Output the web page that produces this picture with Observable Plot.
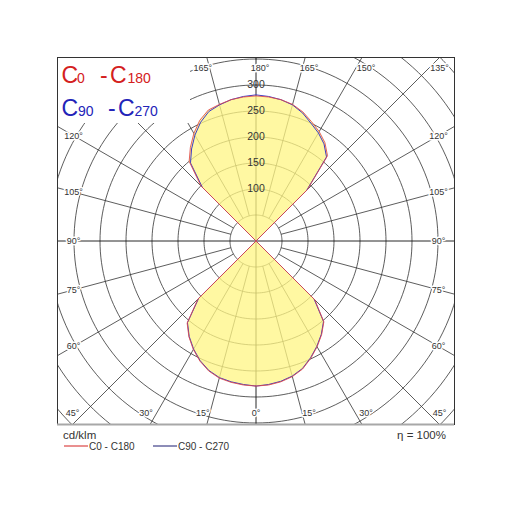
<!DOCTYPE html>
<html><head><meta charset="utf-8">
<script src="https://cdn.jsdelivr.net/npm/d3@7"></script>
<script src="https://cdn.jsdelivr.net/npm/@observablehq/plot@0.6"></script>
<style>
body{margin:0;background:#fff;}
svg{display:block;font-family:"Liberation Sans",Arial,sans-serif;}
</style>
</head><body><div id="chart"></div>
<script>
// Photometric data (cd/klm), gamma measured from nadir
const gamma = [0,5,10,15,20,25,30,35,40,45,50,55,60,65,70,75,80,85,90,95,100,105,110,115,120,125,130,135,140,145,150,155,160,165,170,175,180];
const c0   = [279,278,275,270,262,249,235,220,203,160, 0,0,0,0,0,0,0,0,0,0,0,0,0,0,0,0,0, 140,214,231,243,253,264,272,276,278,279];
const c180 = [279,278,276,273,266,255,241,225,206,158, 0,0,0,0,0,0,0,0,0,0,0,0,0,0,0,0,0, 150,200,220,239,256,268,272,276,278,279];
const c90  = [279,277,274,269,261,248,234,219,202,158, 0,0,0,0,0,0,0,0,0,0,0,0,0,0,0,0,0, 138,211,228,240,250,262,271,276,279,281];
const c270 = [279,277,275,272,265,254,240,224,205,156, 0,0,0,0,0,0,0,0,0,0,0,0,0,0,0,0,0, 146,196,216,235,252,265,271,276,279,281];
const ringValues = [50,100,150,200,250,300,350,400,450,500];
const ringLabels = [100,150,200,250,300];
const spokeAngles = d3.range(0, 360, 15);
const labelAngles = [0,15,30,45,60,75,90,105,120,135,150,165,180];
const seriesNames = ["C0 - C180", "C90 - C270"];
const unitLabel = "cd/klm";
const efficiencyLabel = "η = 100%";

const W = 512, H = 512;
const mL = 57, mR = 58, mT = 57, mB = 88;
const k = 0.52; // px per cd/klm
const xHalf = (W - mL - mR) / 2 / k;
const yHalf = (H - mT - mB) / 2 / k;
const rad = d => d * Math.PI / 180;
// title box (px) that masks the grid in the top-left corner
const box = {x: 58, y: 58, w: 132, h: 65};

function curve(right, left) {
  const pts = [];
  gamma.forEach((g, i) => pts.push({x: right[i] * Math.sin(rad(g)), y: -right[i] * Math.cos(rad(g))}));
  for (let i = gamma.length - 1; i >= 0; i--) pts.push({x: -left[i] * Math.sin(rad(gamma[i])), y: -left[i] * Math.cos(rad(gamma[i]))});
  pts.push(pts[0]);
  return pts;
}
const redPts = curve(c0, c180);
const bluePts = curve(c90, c270);

const ringPts = ringValues.flatMap(r => d3.range(0, 362, 2).map(a => ({r, x: r * Math.sin(rad(a)), y: r * Math.cos(rad(a))})));
const spokes = spokeAngles.filter(a => a % 90 !== 0);

const angleLabels = [];
for (const side of [1, -1]) for (const g of labelAngles) {
  if (side === -1 && (g === 0 || g === 180)) continue;
  const sx = side * Math.sin(rad(g)), sy = -Math.cos(rad(g));
  const tx = Math.abs(sx) > 1e-9 ? xHalf / Math.abs(sx) : Infinity;
  const ty = Math.abs(sy) > 1e-9 ? yHalf / Math.abs(sy) : Infinity;
  let x, y;
  if (ty <= tx) {
    x = sx * ty + Math.sign(sx) * 4 / k;
    x = Math.max(-(xHalf - 15 / k), Math.min(xHalf - 15 / k, x));
    y = Math.sign(sy) * (yHalf - 11 / k);
  } else {
    x = Math.sign(sx) * (xHalf - 16 / k);
    y = sy * (xHalf - 16 / k) / Math.abs(sx);
  }
  // labels falling under the title box are hidden in the original
  const px = mL + (x + xHalf) * k, py = mT + (yHalf - y) * k;
  if (px < box.x + box.w + 6 && py < box.y + box.h + 4) continue;
  angleLabels.push({g, x, y});
}

const gridColor = "#333";
const plot = Plot.plot({
  width: W, height: H,
  marginLeft: mL, marginRight: mR, marginTop: mT, marginBottom: mB,
  style: {background: "white", fontFamily: "Liberation Sans, Arial, sans-serif"},
  x: {domain: [-xHalf, xHalf], axis: null},
  y: {domain: [-yHalf, yHalf], axis: null},
  marks: [
    Plot.line(ringPts, {x: "x", y: "y", z: "r", stroke: gridColor, strokeWidth: 0.8, clip: true}),
    Plot.link(spokes, {x1: a => 50 * Math.sin(rad(a)), y1: a => 50 * Math.cos(rad(a)), x2: a => 800 * Math.sin(rad(a)), y2: a => 800 * Math.cos(rad(a)), stroke: gridColor, strokeWidth: 0.8, clip: true}),
    Plot.ruleX([0], {stroke: "#111", strokeWidth: 0.9}),
    Plot.ruleY([0], {stroke: "#111", strokeWidth: 0.9}),
    Plot.line(redPts, {x: "x", y: "y", fill: "#fff685", fillOpacity: 0.76, stroke: "none", curve: "linear"}),
    Plot.line(bluePts, {x: "x", y: "y", stroke: "#3c3cc8", strokeWidth: 1}),
    Plot.line(redPts, {x: "x", y: "y", stroke: "#e04848", strokeWidth: 1, strokeOpacity: 0.85}),
    Plot.text(ringLabels, {x: 0, y: d => d, text: d => String(d), fontSize: 10.5, fill: "#333"}),
    Plot.text(angleLabels, {x: "x", y: "y", text: d => d.g + "°", fontSize: 9, fill: "#333", stroke: "white", strokeWidth: 3, paintOrder: "stroke"}),
    Plot.frame({stroke: "#333"}),
    Plot.ruleY([-yHalf], {stroke: "#a8a8a8", strokeWidth: 2})
  ]
});
document.getElementById("chart").appendChild(plot);

const svg = d3.select(plot);
const font = "Liberation Sans, Arial, sans-serif";
svg.append("rect").attr("x", box.x).attr("y", box.y).attr("width", box.w).attr("height", box.h).attr("fill", "white");

function title(y, color, parts) {
  const t = svg.append("text").attr("y", y).attr("fill", color).attr("text-anchor", "start").style("font-family", font);
  parts.forEach(([txt, x, size]) => t.append("tspan").attr("x", x).attr("font-size", size).text(txt));
}
title(83, "#d42020", [["C", 61.5, 23], ["0", 77, 14], ["-", 100, 23], ["C", 110, 23], ["180", 127.5, 14]]);
title(116, "#2323b8", [["C", 61.5, 23], ["90", 78, 14], ["-", 108, 23], ["C", 118, 23], ["270", 134.5, 14]]);

svg.append("text").attr("x", 63).attr("y", 439).attr("text-anchor", "start").attr("font-size", 11.5).attr("fill", "#333").style("font-family", font).text(unitLabel);
svg.append("text").attr("x", 446).attr("y", 439).attr("text-anchor", "end").attr("font-size", 11.5).attr("fill", "#333").style("font-family", font).text(efficiencyLabel);
const legendColors = ["#d42020", "#1a1a70"];
const legendX = [64, 153];
seriesNames.forEach((name, i) => {
  svg.append("line").attr("x1", legendX[i]).attr("x2", legendX[i] + 24).attr("y1", 446).attr("y2", 446).attr("stroke", legendColors[i]).attr("stroke-width", 1);
  svg.append("text").attr("x", legendX[i] + 25).attr("y", 449.5).attr("text-anchor", "start").attr("font-size", 10).attr("fill", "#333").style("font-family", font).text(name);
});
</script>
</body></html>
